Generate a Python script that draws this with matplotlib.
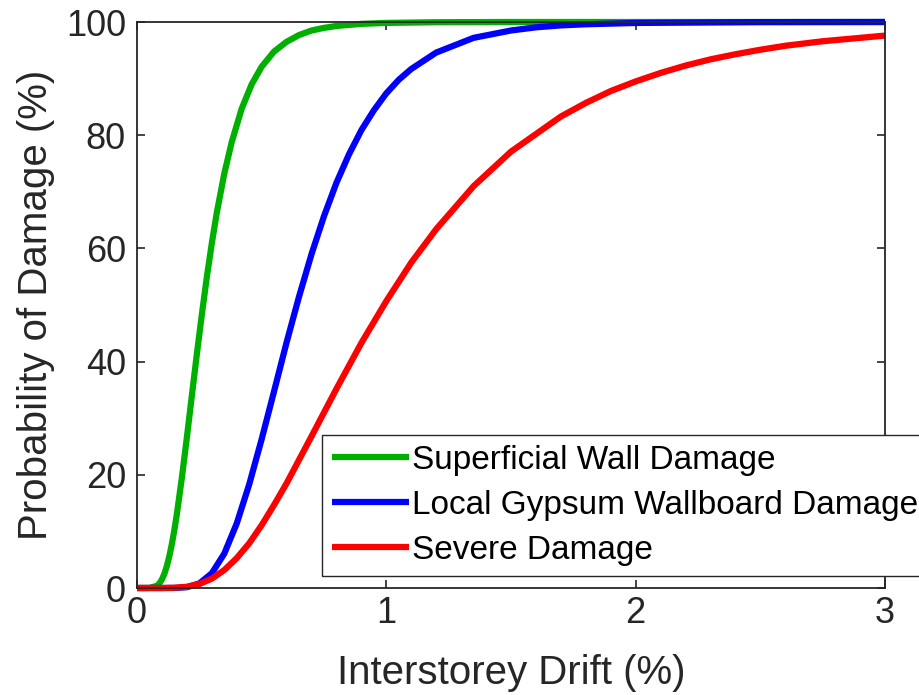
import matplotlib
matplotlib.use("Agg")
import matplotlib.pyplot as plt

plt.rcParams['font.family'] = ['Liberation Sans', 'DejaVu Sans']

# Interstorey drift (%) and probability of damage (%)
green_x = [0.0, 0.05, 0.08, 0.09, 0.10, 0.11, 0.12, 0.13, 0.14, 0.15, 0.16, 0.18,
           0.20, 0.22, 0.24, 0.26, 0.28, 0.30, 0.32, 0.35, 0.38, 0.42, 0.46, 0.50,
           0.55, 0.60, 0.65, 0.70, 0.75, 0.80, 0.90, 1.00, 1.20, 1.50, 2.00, 3.00]
green_y = [0.0, 0.01, 0.39, 0.82, 1.52, 2.54, 3.92, 5.68, 7.81, 10.3, 13.1, 19.5,
           26.6, 34.0, 41.3, 48.3, 54.9, 60.9, 66.3, 73.2, 78.8, 84.7, 89.0, 92.1,
           94.8, 96.5, 97.7, 98.5, 98.96, 99.3, 99.67, 99.84, 99.96, 100.0, 100.0, 100.0]

blue_x = [0.0, 0.10, 0.15, 0.20, 0.25, 0.30, 0.35, 0.40, 0.45, 0.50, 0.55, 0.60,
          0.65, 0.70, 0.75, 0.80, 0.85, 0.90, 0.95, 1.00, 1.05, 1.10, 1.20, 1.35,
          1.50, 1.60, 1.70, 1.80, 2.00, 2.50, 3.00]
blue_y = [0.0, 0.0, 0.01, 0.14, 0.80, 2.60, 6.07, 11.4, 18.3, 26.3, 34.8, 43.4,
          51.5, 59.0, 65.7, 71.6, 76.6, 80.9, 84.4, 87.4, 89.8, 91.7, 94.6, 97.2,
          98.5, 99.06, 99.4, 99.6, 99.83, 99.98, 100.0]

red_x = [0.0, 0.10, 0.15, 0.20, 0.25, 0.30, 0.35, 0.40, 0.45, 0.50, 0.55, 0.60,
         0.70, 0.80, 0.90, 1.00, 1.10, 1.20, 1.35, 1.50, 1.70, 1.80, 1.90, 2.00,
         2.10, 2.20, 2.30, 2.40, 2.50, 2.60, 2.75, 2.80, 3.00]
red_y = [0.0, 0.0, 0.04, 0.22, 0.70, 1.65, 3.17, 5.28, 7.9, 11.1, 14.7, 18.5,
         26.8, 35.2, 43.3, 50.7, 57.5, 63.4, 71.0, 77.1, 83.3, 85.7, 87.8, 89.5,
         91.0, 92.3, 93.4, 94.3, 95.1, 95.8, 96.6, 96.8, 97.6]

labels = ['Superficial Wall Damage', 'Local Gypsum Wallboard Damage', 'Severe Damage']
colors = ['#00b000', '#0000ff', '#ff0000']
xticks = [0, 1, 2, 3]
yticks = [0, 20, 40, 60, 80, 100]

dark = '#262626'
fig = plt.figure(figsize=(9.2, 6.95), dpi=100)
ax = fig.add_axes([137/920, 1 - 588/695, (885-137)/920, (588-22)/695])

for xs, ys, c, lab in zip([green_x, blue_x, red_x], [green_y, blue_y, red_y], colors, labels):
    ax.plot(xs, ys, color=c, lw=4.5, label=lab, clip_on=False,
            solid_capstyle='butt', solid_joinstyle='round')

ax.set_xlim(0, 3)
ax.set_ylim(0, 100)
ax.set_xticks(xticks)
ax.set_yticks(yticks)
ax.tick_params(axis='both', direction='in', length=5.5, width=1.2, colors=dark,
               labelsize=26, top=True, right=True)
ax.tick_params(axis='x', pad=6)
ax.tick_params(axis='y', pad=8)
for s in ax.spines.values():
    s.set_color(dark)
    s.set_linewidth(1.3)

ax.set_xlabel('Interstorey Drift (%)', fontsize=29, color=dark, labelpad=16)
ax.set_ylabel('Probability of Damage (%)', fontsize=29, color=dark, labelpad=8)

leg = ax.legend(loc='upper left', bbox_to_anchor=(322/920, 1 - 435/695),
                bbox_transform=fig.transFigure, fontsize=24, frameon=True,
                fancybox=False, edgecolor=dark, framealpha=1.0,
                handlelength=2.3, handletextpad=0.1, labelspacing=0.42,
                borderpad=0.3, borderaxespad=0)
leg.get_frame().set_linewidth(1.0)
for t in leg.get_texts():
    t.set_color('black')

fig.savefig('out.png', dpi=100)
